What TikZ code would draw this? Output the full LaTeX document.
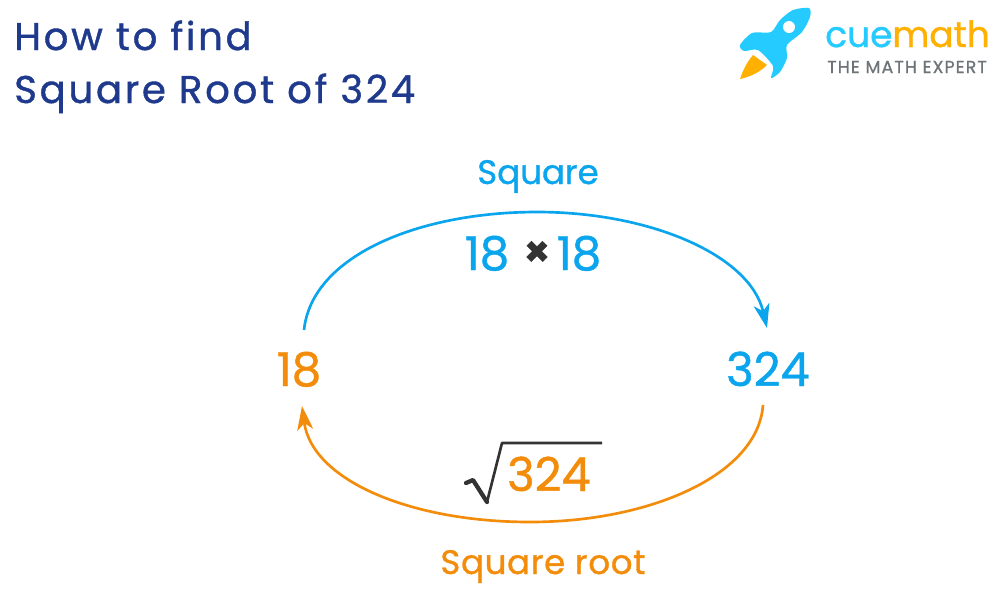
\documentclass[tikz,border=0pt]{standalone}
\usepackage{fontspec}
\setmainfont{Poppins}[FakeBold=1]
\newfontfamily\logofont{Poppins}[FakeBold=1]
\usetikzlibrary{arrows.meta}
\definecolor{titleblue}{HTML}{1F3A8C}
\definecolor{skyblue}{HTML}{0AA5EC}
\definecolor{rootorange}{HTML}{F28C0A}
\definecolor{logocyan}{HTML}{25CBFF}
\definecolor{logoyellow}{HTML}{FFB000}
\definecolor{logogray}{HTML}{6D7478}
\tikzset{
  arc blue/.style={skyblue, line width=2pt, -{Stealth[length=18pt,width=12pt,inset=5pt]}},
  arc orange/.style={rootorange, line width=2pt, -{Stealth[length=18pt,width=12pt,inset=5pt]}},
  label/.style={inner sep=0pt, anchor=base},
  heading/.style={label, anchor=base west, text=titleblue, font=\fontsize{29}{29}\selectfont\addfontfeature{LetterSpace=7}},
  number/.style={label, font=\fontsize{35}{35}\selectfont}
}
\begin{document}
\begin{tikzpicture}[x=0.75pt,y=-0.75pt]
\useasboundingbox (0,0) rectangle (996,597);
\node[heading] (title1) at (14,50) {How to find};
\node[heading] (title2) at (14,103) {Square Root of 324};
\node[label, text=skyblue, font=\fontsize{25.5}{25.5}\selectfont] (square) at (538,184) {Square};
\node[number, text=skyblue] (prodl) at (487,270) {18};
\node[label, text=black!80, font=\fontsize{31}{31}\selectfont\bfseries] (times) at (537,266) {×};
\node[number, text=skyblue] (prodr) at (579,270) {18};
\node[number, text=rootorange] (left) at (299,386) {18};
\node[number, text=skyblue] (right) at (768,386) {324};
\node[number, text=rootorange] (rad) at (549,491) {324};
\node[label, text=rootorange, font=\fontsize{25.5}{25.5}\selectfont\addfontfeature{LetterSpace=2}] (root) at (543,574) {Square root};
\coordinate (a1) at (304,330);
\coordinate (a2) at (767,328);
\coordinate (b1) at (763,405);
\coordinate (b2) at (302,406);
\draw[arc blue] (a1) .. controls (312,255) and (420,212) .. (537,212) .. controls (650,212) and (750,255) .. (a2);
\draw[arc orange] (b1) .. controls (758,475) and (650,522) .. (530,522) .. controls (410,522) and (312,480) .. (b2);
\draw[black!80, line width=2pt, line join=round] (487,502) -- (502,443) -- (602,443);
\draw[black!80, line width=3.2pt, line join=round, line cap=round] (466,483) -- (473,480) -- (487,502);
% logo
\fill[logocyan] plot[smooth cycle, tension=0.45] coordinates {(809,8) (793,10) (780,20) (771,32) (752,33) (740,45) (744,51) (758,50) (773,66) (771,78) (780,72) (787,58) (787,45) (802,32) (810,17)};
\fill[white] (789,27) circle (6);
\fill[logoyellow] (753,55) -- (767,65) .. controls (760,72) and (750,77) .. (740,79) .. controls (743,70) and (747,62) .. (753,55) -- cycle;
\node[label, anchor=base west, text=logocyan, font=\logofont\fontsize{27}{27}\selectfont] (cue) at (825,47) {cue};
\node[label, anchor=base west, text=logoyellow, font=\logofont\fontsize{27}{27}\selectfont] (math) at (892,47) {math};
\node[label, anchor=base west, text=logogray, font=\logofont\fontsize{13}{13}\selectfont\addfontfeature{LetterSpace=6.5}] (expert) at (827,73) {THE MATH EXPERT};
\end{tikzpicture}
\end{document}
